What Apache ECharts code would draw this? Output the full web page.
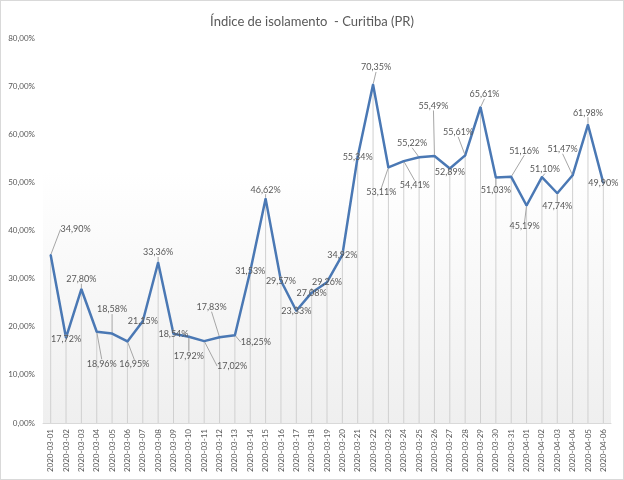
<!DOCTYPE html>
<html><head><meta charset="utf-8">
<script src="https://cdn.jsdelivr.net/npm/echarts@6/dist/echarts.min.js"></script>
<style>html,body{margin:0;padding:0;background:#fff}#c{width:624px;height:480px;box-sizing:border-box;border:1px solid #d9d9d9}</style>
</head><body><div id="c"></div>
<script>
const categories = ['2020-03-01','2020-03-02','2020-03-03','2020-03-04','2020-03-05','2020-03-06','2020-03-07','2020-03-08','2020-03-09','2020-03-10','2020-03-11','2020-03-12','2020-03-13','2020-03-14','2020-03-15','2020-03-16','2020-03-17','2020-03-18','2020-03-19','2020-03-20','2020-03-21','2020-03-22','2020-03-23','2020-03-24','2020-03-25','2020-03-26','2020-03-27','2020-03-28','2020-03-29','2020-03-30','2020-03-31','2020-04-01','2020-04-02','2020-04-03','2020-04-04','2020-04-05','2020-04-06'];
const isolamento = [34.90,17.72,27.80,18.96,18.58,16.95,21.15,33.36,18.54,17.92,17.02,17.83,18.25,31.53,46.62,29.57,23.33,27.08,29.26,34.92,55.34,70.35,53.11,54.41,55.22,55.49,52.89,55.61,65.61,51.03,51.16,45.19,51.10,47.74,51.47,61.98,49.90];
const yTicks = [0,10,20,30,40,50,60,70,80];
// label placement (style only): offsets from each point
const labelOffsets = [[25,-26],[0,1],[0,-10],[5,32],[0,-24],[7,23],[0,0],[0,-10],[0,0],[0,19],[28,25],[-8,-30],[21,7],[0,0],[0,-9],[0,0],[0,0],[0,0],[0,0],[0,0],[0,0],[3,-17],[-7,25],[11,24],[-7,-14],[-1,-50],[0,4],[-7,-23],[4,-13],[0,13],[13,-26],[-2,21],[3,-8],[0,13],[-10,-26],[0,-12],[0,0]];

const fmt = v => v.toFixed(2).replace('.', ',') + '%';
const chart = echarts.init(document.getElementById('c'), null, {renderer:'canvas'});
chart.setOption({
  animation:false,
  textStyle:{fontFamily:'Lato'},
  title:{text:'Índice de isolamento  - Curitiba (PR)',left:'center',top:9,textStyle:{fontFamily:'Lato',fontSize:13,fontWeight:'normal',color:'#595959'}},
  grid:{left:42,right:12,top:37,bottom:56,show:true,borderWidth:0,
    backgroundColor:new echarts.graphic.LinearGradient(0,0,0,1,[{offset:0,color:'#ffffff'},{offset:0.35,color:'#ffffff'},{offset:1,color:'#efefef'}])},
  xAxis:{type:'category',data:categories,boundaryGap:true,
    axisLine:{lineStyle:{color:'#d9d9d9'}},axisTick:{show:false},
    axisLabel:{rotate:90,interval:0,fontSize:8,color:'#595959',margin:6}},
  yAxis:{type:'value',min:yTicks[0],max:yTicks[yTicks.length-1],interval:10,
    splitLine:{show:false},axisLine:{show:false},axisTick:{show:false},
    axisLabel:{fontSize:8,color:'#595959',margin:8,formatter:v=>v.toFixed(2).replace('.',',')+'%'}},
  series:[
    {type:'bar',data:isolamento,barWidth:1,itemStyle:{color:'#d0d0d0'},silent:true,z:1},
    {type:'line',data:isolamento,symbol:'circle',symbolSize:2,showSymbol:true,z:3,
      itemStyle:{color:'#4a78b4'},
      lineStyle:{color:'#4a78b4',width:2.5},
      label:{show:true,position:'inside',fontSize:9,color:'#595959',fontFamily:'Lato',formatter:p=>fmt(p.value)},
      labelLine:{show:true,lineStyle:{color:'#a6a6a6',width:1}},
      labelLayout:p=>({dx:labelOffsets[p.dataIndex][0],dy:labelOffsets[p.dataIndex][1],hideOverlap:false})
    }
  ]
});
</script></body></html>
